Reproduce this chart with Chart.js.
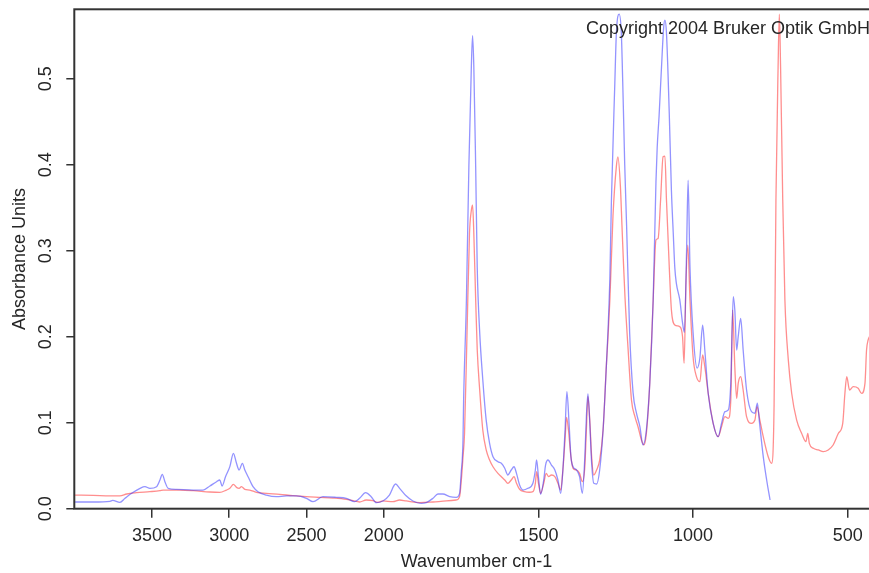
<!DOCTYPE html>
<html>
<head>
<meta charset="utf-8">
<script src="https://cdn.jsdelivr.net/npm/chart.js@4/dist/chart.umd.min.js"></script>
<style>
  html, body { margin: 0; padding: 0; background: #ffffff; overflow: hidden; }
  #wrap { width: 890px; height: 573px; }
</style>
</head>
<body>
<div id="wrap"><canvas id="c" width="890" height="573"></canvas></div>
<script>
// ---- data (wavenumber cm-1, absorbance units) ----
const blueWavenumber = [3997,3879,3771,3754,3707,3674,3631,3577,3545,3513,3470,3448,3433,3416,3395,3341,3233,3169,3125,3082,3061,3046,3024,2996,2973,2953,2936,2915,2899,2878,2846,2814,2760,2695,2630,2566,2501,2458,2394,2308,2243,2189,2157,2118,2082,2049,2006,1982,1962,1949,1928,1906,1879,1863,1841,1825,1809,1787,1766,1755,1750,1744,1742,1733,1725,1717,1713,1709,1703,1698,1690,1680,1669,1658,1647,1631,1620,1609,1599,1588,1579,1571,1561,1550,1534,1518,1510,1506,1500,1493,1483,1477,1469,1458,1447,1437,1428,1421,1414,1408,1401,1395,1388,1377,1367,1358,1350,1345,1340,1334,1328,1321,1312,1302,1291,1280,1275,1269,1264,1253,1248,1239,1232,1226,1221,1215,1205,1194,1183,1172,1162,1151,1140,1129,1120,1116,1110,1102,1095,1091,1086,1077,1070,1064,1059,1054,1043,1034,1028,1021,1016,1010,1000,987,978,969,962,951,935,919,908,897,886,878,870,865,859,854,846,838,827,811,800,792,786,773,762,751];
const blueAbsorbance = [0.0078,0.0078,0.0086,0.0097,0.0074,0.0121,0.0179,0.0237,0.0256,0.0237,0.0256,0.0334,0.0400,0.0314,0.0237,0.0225,0.0217,0.0217,0.0264,0.0314,0.0334,0.0264,0.0372,0.0489,0.0644,0.0528,0.0450,0.0528,0.0450,0.0372,0.0256,0.0198,0.0159,0.0140,0.0148,0.0148,0.0121,0.0082,0.0140,0.0132,0.0121,0.0082,0.0121,0.0186,0.0140,0.0070,0.0090,0.0159,0.0287,0.0237,0.0150,0.0090,0.0062,0.0070,0.0121,0.0171,0.0171,0.0140,0.0132,0.0179,0.041,0.080,0.126,0.242,0.398,0.514,0.550,0.514,0.398,0.281,0.205,0.150,0.103,0.076,0.0605,0.0547,0.0528,0.0470,0.0392,0.0450,0.0488,0.0411,0.0275,0.0217,0.0237,0.0295,0.0450,0.0566,0.0372,0.0167,0.0334,0.0508,0.0566,0.0508,0.0450,0.0334,0.0179,0.0450,0.0915,0.1361,0.0993,0.0605,0.0488,0.0450,0.0372,0.0179,0.0605,0.1070,0.1334,0.0993,0.0528,0.0295,0.0287,0.0450,0.0915,0.1690,0.2078,0.270,0.359,0.495,0.553,0.575,0.553,0.475,0.400,0.330,0.204,0.135,0.111,0.0955,0.0741,0.0915,0.146,0.243,0.380,0.420,0.456,0.514,0.560,0.568,0.553,0.460,0.370,0.320,0.280,0.262,0.243,0.216,0.205,0.300,0.382,0.281,0.205,0.1635,0.1752,0.2135,0.1845,0.134,0.0993,0.0837,0.0993,0.1128,0.1148,0.146,0.2465,0.231,0.1845,0.200,0.2214,0.1845,0.138,0.1128,0.111,0.1226,0.103,0.0605,0.0334,0.0101];

const redWavenumber = [3997,3879,3771,3707,3663,3599,3513,3448,3427,3384,3320,3233,3125,3061,3018,2996,2973,2953,2936,2921,2899,2867,2824,2760,2673,2588,2501,2415,2329,2243,2200,2157,2114,2071,2039,2006,1971,1949,1928,1884,1841,1798,1766,1755,1749,1744,1739,1731,1723,1717,1713,1709,1703,1698,1690,1680,1669,1658,1647,1631,1620,1609,1599,1588,1579,1571,1561,1545,1530,1518,1510,1506,1500,1493,1483,1475,1467,1458,1447,1437,1428,1421,1414,1409,1403,1395,1388,1377,1367,1358,1350,1345,1340,1334,1328,1321,1312,1302,1291,1280,1275,1269,1259,1248,1243,1235,1230,1225,1220,1210,1199,1188,1178,1167,1159,1151,1140,1129,1120,1113,1105,1097,1091,1086,1077,1070,1059,1043,1034,1029,1023,1017,1010,1000,989,978,969,962,951,935,919,908,897,886,878,872,865,859,854,846,838,827,811,800,793,784,773,757,746,738,732,725,721,717,710,703,692,681,665,649,635,629,624,611,595,579,563,547,530,516,509,503,494,482,466,455,444,439,434,430];
const redAbsorbance = [0.0159,0.0155,0.0148,0.0148,0.0171,0.0186,0.0198,0.0210,0.0217,0.0217,0.0217,0.0210,0.0194,0.0190,0.0217,0.0237,0.0283,0.0248,0.0237,0.0256,0.0225,0.0217,0.0190,0.0179,0.0167,0.0152,0.0140,0.0132,0.0124,0.0109,0.0093,0.0078,0.0101,0.0093,0.0074,0.0090,0.0082,0.0101,0.0090,0.0070,0.0078,0.0090,0.0101,0.0140,0.035,0.060,0.0877,0.204,0.320,0.347,0.353,0.320,0.243,0.185,0.138,0.0915,0.0683,0.0566,0.0488,0.0411,0.0372,0.0334,0.0295,0.0334,0.0372,0.0295,0.0226,0.0198,0.0191,0.0198,0.0295,0.0430,0.0295,0.0179,0.0295,0.0411,0.0372,0.0392,0.0372,0.0295,0.0217,0.0450,0.0799,0.1063,0.0915,0.0605,0.0470,0.0450,0.0411,0.0314,0.0488,0.0915,0.1302,0.1031,0.0605,0.0392,0.0450,0.0566,0.0915,0.1690,0.200,0.243,0.340,0.398,0.409,0.375,0.330,0.285,0.245,0.185,0.126,0.107,0.0953,0.0799,0.0741,0.0876,0.1458,0.2427,0.3124,0.3144,0.359,0.4093,0.410,0.359,0.2814,0.231,0.2136,0.2116,0.200,0.169,0.262,0.3066,0.2427,0.1767,0.1535,0.1477,0.1787,0.1651,0.1342,0.0993,0.0837,0.0953,0.107,0.1051,0.1264,0.231,0.165,0.1283,0.1458,0.1535,0.138,0.107,0.0993,0.1031,0.1186,0.1031,0.0837,0.0605,0.0528,0.120,0.359,0.514,0.575,0.514,0.359,0.2427,0.173,0.134,0.103,0.0877,0.0779,0.0877,0.076,0.0702,0.0683,0.0663,0.0683,0.0741,0.0877,0.0993,0.134,0.1535,0.138,0.1419,0.140,0.134,0.146,0.1845,0.196,0.200];

const xTickValues = [3500, 3000, 2500, 2000, 1500, 1000, 500];
const yTickValues = [0.0, 0.1, 0.2, 0.3, 0.4, 0.5];
const xTitle = 'Wavenumber cm-1';
const yTitle = 'Absorbance Units';
const noteText = 'Copyright 2004 Bruker Optik GmbH';

// ---- axis transform: region above 2000 cm-1 is compressed by a factor 2 ----
const BREAK = 2000;
function toAxis(w) { return w <= BREAK ? w : BREAK + (w - BREAK) / 2; }
function fromAxis(t) { return t <= BREAK ? t : BREAK + (t - BREAK) * 2; }

function series(ws, as) { return ws.map((w, i) => ({ x: toAxis(w), y: as[i] })); }

const FONT = "'Liberation Sans', Arial, sans-serif";
const TXT = '#262626';

const framePlugin = {
  id: 'frame',
  afterDraw(chart) {
    const { ctx, chartArea: a, scales } = chart;
    ctx.save();
    ctx.strokeStyle = '#333333';
    ctx.lineWidth = 2;
    ctx.strokeRect(a.left, a.top, a.right - a.left, a.bottom - a.top);
    // y tick labels, rotated like the reference
    ctx.fillStyle = TXT;
    ctx.font = '18px ' + FONT;
    ctx.textAlign = 'center';
    ctx.textBaseline = 'middle';
    const ys = scales.y;
    ys.ticks.forEach(t => {
      const p = ys.getPixelForValue(t.value);
      ctx.save();
      ctx.translate(a.left - 28.5, p);
      ctx.rotate(-Math.PI / 2);
      ctx.fillText(t.value.toFixed(1), 0, 0);
      ctx.restore();
    });
    // copyright note
    ctx.textAlign = 'left';
    ctx.textBaseline = 'alphabetic';
    ctx.fillText(noteText, 586, 34);
    ctx.restore();
  }
};

new Chart(document.getElementById('c'), {
  type: 'line',
  data: {
    datasets: [
      { label: 'sample 1', data: series(blueWavenumber, blueAbsorbance), borderColor: 'rgba(40,40,255,0.5)', borderWidth: 1.3, pointRadius: 0, cubicInterpolationMode: 'monotone', fill: false },
      { label: 'sample 2', data: series(redWavenumber, redAbsorbance), borderColor: 'rgba(255,30,30,0.5)', borderWidth: 1.3, pointRadius: 0, cubicInterpolationMode: 'monotone', fill: false }
    ]
  },
  options: {
    responsive: false,
    animation: false,
    devicePixelRatio: 1,
    parsing: false,
    layout: { padding: { left: 0, top: 9.3, right: 11.4, bottom: 0 } },
    plugins: { legend: { display: false }, tooltip: { enabled: false }, title: { display: false } },
    scales: {
      x: {
        type: 'linear',
        reverse: true,
        min: 400,
        max: toAxis(4002),
        afterBuildTicks(scale) { scale.ticks = xTickValues.map(w => ({ value: toAxis(w) })); },
        afterFit(scale) { scale.height = 64.3; },
        ticks: {
          autoSkip: false, maxRotation: 0, minRotation: 0, padding: 8,
          color: TXT, font: { family: FONT, size: 18 },
          callback: (v) => String(Math.round(fromAxis(v)))
        },
        grid: { display: true, drawOnChartArea: false, drawTicks: true, tickLength: 9, color: '#333333', lineWidth: 1.5 },
        border: { display: false },
        title: { display: true, text: xTitle, color: TXT, font: { family: FONT, size: 18 }, padding: { top: 0, bottom: 0.5 } }
      },
      y: {
        type: 'linear',
        min: 0,
        max: 0.5807,
        afterBuildTicks(scale) { scale.ticks = yTickValues.map(v => ({ value: v })); },
        afterFit(scale) { scale.width = 74.3; },
        ticks: { display: false },
        grid: { display: true, drawOnChartArea: false, drawTicks: true, tickLength: 8, color: '#333333', lineWidth: 1.5 },
        border: { display: false },
        title: { display: true, text: yTitle, color: TXT, font: { family: FONT, size: 18 }, padding: { top: 9, bottom: 0 } }
      }
    }
  },
  plugins: [framePlugin]
});
</script>
</body>
</html>
